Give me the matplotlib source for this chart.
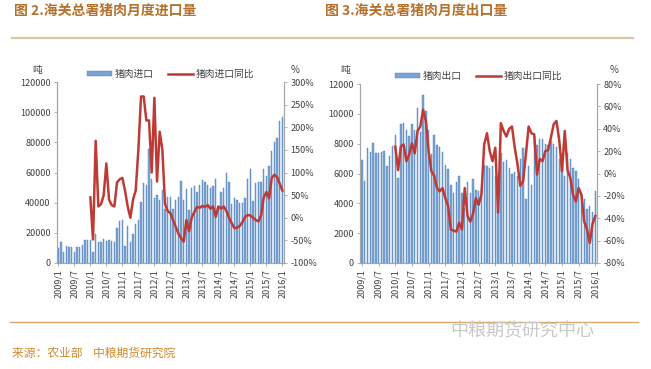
import numpy as np
import matplotlib
matplotlib.use("Agg")
import matplotlib.pyplot as plt
from matplotlib.patches import Patch
from matplotlib.lines import Line2D
from matplotlib.ticker import FuncFormatter

plt.rcParams["font.family"] = ["Noto Sans CJK SC", "DejaVu Sans"]

# monthly data, 2009/1 .. 2016/1 (85 months); yoy series start 2010/1
TICK_LABELS = ["2009/1", "2009/7", "2010/1", "2010/7", "2011/1", "2011/7", "2012/1", "2012/7",
               "2013/1", "2013/7", "2014/1", "2014/7", "2015/1", "2015/7", "2016/1"]

imports = [
    10000, 13700, 7000, 11000, 10800, 10800, 7000, 10800, 10800, 12000, 15000, 15000,   # 2009
    15000, 7000, 19200, 14000, 14000, 16000, 14500, 15000, 14500, 14000, 23000, 28000,  # 2010
    28500, 11000, 24700, 14000, 19500, 26000, 28500, 40600, 53000, 52000, 75600, 56000,  # 2011
    43000, 45000, 42000, 48500, 36000, 44000, 43500, 36000, 42000, 44000, 54500, 42000,  # 2012
    49000, 35000, 49500, 51000, 47000, 52000, 55000, 54000, 52000, 50000, 51000, 56000,  # 2013
    37000, 47000, 50000, 59500, 54000, 39000, 43000, 41500, 40000, 40000, 43000, 56000,  # 2014
    62000, 41000, 53000, 54000, 54000, 62000, 58000, 64000, 74000, 80000, 83000, 94000,  # 2015
    97000,                                                                               # 2016
]
imports_yoy = [
    45, -48, 170, 25, 30, 50, 120, 40, 28, 25, 78, 85,
    88, 60, 25, 0, 40, 60, 150, 268, 268, 215, 215, 100,
    265, 80, 190, 150, 30, 15, 10, -5, -20, -35, -45, -53,
    -5, -30, 0, 13, 24, 22, 26, 24, 28, 20, 25, 2,
    25, 20, 25, 15, 0, -12, -23, -22, -18, -10, 2, 6,
    5, 0, -5, -8, 5, 45, 57, 43, 88, 95, 90, 75,
    60,
]

exports = [
    6900, 5500, 7700, 7450, 8050, 7400, 7350, 7450, 7500, 6500, 7200, 7850,    # 2009
    8600, 5700, 9350, 9400, 8900, 8500, 9300, 8900, 10400, 8800, 11250, 10200, # 2010
    8900, 7300, 8600, 7900, 7800, 7450, 6600, 6300, 5250, 4700, 5450, 5850,    # 2011
    4700, 3700, 5400, 4700, 5600, 4900, 4800, 4900, 6600, 6500, 6400, 6500,    # 2012
    5800, 4600, 7400, 6800, 6900, 6400, 6000, 6100, 5800, 7000, 7700, 4300,    # 2013
    6500, 5200, 8500, 7900, 8300, 8300, 8000, 7900, 8200, 8000, 7800, 7000,    # 2014
    6600, 5800, 7400, 7000, 6400, 6200, 5600, 4600, 4300, 3600, 3800, 3400,    # 2015
    4800,                                                                      # 2016
]
exports_yoy = [
    24, 3, 24, 26, 11, 17, 27, 18, 38, 42, 57, 47,
    20, 2, -2, -13, -16, -13, -22, -29, -50, -51, -52, -44,
    -50, -13, -38, -43, -36, -22, -28, -19, 26, 36, 20, 11,
    23, -35, 45, 38, 33, 40, 42, 23, 8, -11, -7, 17,
    42, 36, 35, -1, 13, 11, 20, 21, 32, 44, 47, 30,
    2, 38, 3, -4, -19, -25, -13, -19, -43, -50, -62, -45,
    -38,
]

BAR_C = "#7ba3d4"
BAR_EDGE = "#5080b8"
LINE_C = "#be3a34"
SPINE_C = "#a6a6a6"
TXT_C = "#404040"
TITLE_C = "#b5712c"

W, H = 651, 369
fig = plt.figure(figsize=(W / 100, H / 100), dpi=100)
fig.patch.set_facecolor("white")


def px_axes(left, top, right, bottom):
    return fig.add_axes([left / W, 1 - bottom / H, (right - left) / W, (bottom - top) / H])


def draw_panel(ax, bars, yoy, ylim, yticks, rlim, rticks, names, xlim):
    x = np.arange(len(bars))
    ax.bar(x, bars, width=0.5, color=BAR_C, edgecolor=BAR_EDGE, linewidth=0.3, zorder=2)
    ax.set_xlim(*xlim)
    ax.set_ylim(*ylim)
    ax.set_yticks(yticks)
    ax.yaxis.set_major_formatter(FuncFormatter(lambda v, p: f"{int(v)}"))
    ax.set_xticks(np.arange(0, len(bars), 6))
    ax.set_xticklabels(TICK_LABELS, rotation=90)

    ax2 = ax.twinx()
    ax2.plot(np.arange(12, 12 + len(yoy)), yoy, color=LINE_C, lw=1.8, zorder=3)
    ax2.set_ylim(*rlim)
    ax2.set_yticks(rticks)
    ax2.yaxis.set_major_formatter(FuncFormatter(lambda v, p: f"{int(v)}%"))

    for a in (ax, ax2):
        for s in a.spines.values():
            s.set_color(SPINE_C)
            s.set_linewidth(0.8)
        a.spines["top"].set_visible(False)
        a.tick_params(labelsize=6.5, colors=TXT_C, length=2.5, width=0.6, pad=2)
        a.tick_params(color=SPINE_C)

    handles = [Patch(facecolor=BAR_C, edgecolor=BAR_EDGE, linewidth=0.3),
               Line2D([0], [0], color=LINE_C, lw=1.8)]
    ax.legend(handles, names, loc="lower center", bbox_to_anchor=(0.5, 0.99), ncol=2,
              frameon=False, fontsize=7, handlelength=2.6, handleheight=0.5,
              columnspacing=1.4, handletextpad=0.3, borderaxespad=0.1,
              labelcolor=TXT_C)
    return ax2


# left panel: imports
axL = px_axes(57, 82, 284, 263)
draw_panel(axL, imports, imports_yoy, (0, 120000), np.arange(0, 120001, 20000),
           (-100, 300), np.arange(-100, 301, 50), ["猪肉进口", "猪肉进口同比"], (-0.5, 84.6))
fig.text(37 / W, 1 - 70 / H, "吨", fontsize=7, color=TXT_C, ha="center", va="center")
fig.text(295 / W, 1 - 70 / H, "%", fontsize=7, color=TXT_C, ha="center", va="center")

# right panel: exports
axR = px_axes(360, 84, 597, 263)
draw_panel(axR, exports, exports_yoy, (0, 12000), np.arange(0, 12001, 2000),
           (-80, 80), np.arange(-80, 81, 20), ["猪肉出口", "猪肉出口同比"], (-0.7, 84.6))
fig.text(345 / W, 1 - 70 / H, "吨", fontsize=7, color=TXT_C, ha="center", va="center")
fig.text(614 / W, 1 - 70 / H, "%", fontsize=7, color=TXT_C, ha="center", va="center")

# titles and rules
fig.text(14 / W, 1 - 11 / H, "图 2.海关总署猪肉月度进口量", fontsize=10, fontweight="bold",
         color=TITLE_C, ha="left", va="center")
fig.text(325 / W, 1 - 11 / H, "图 3.海关总署猪肉月度出口量", fontsize=10, fontweight="bold",
         color=TITLE_C, ha="left", va="center")
fig.add_artist(Line2D([12 / W, 633 / W], [1 - 38 / H, 1 - 38 / H], color="#d8c8a4", lw=1.6))

# footer
fig.add_artist(Line2D([10 / W, 638 / W], [1 - 322 / H, 1 - 322 / H], color="#d9a86c", lw=1.0))
fig.text(12 / W, 1 - 353 / H, "来源：农业部    中粮期货研究院", fontsize=8.5, style="italic",
         color="#d08a2e", ha="left", va="center")
fig.text(450 / W, 1 - 331 / H, "中粮期货研究中心", fontsize=13, color="#c8c8c8",
         ha="left", va="center")

fig.savefig("out.png", dpi=100, facecolor="white")
